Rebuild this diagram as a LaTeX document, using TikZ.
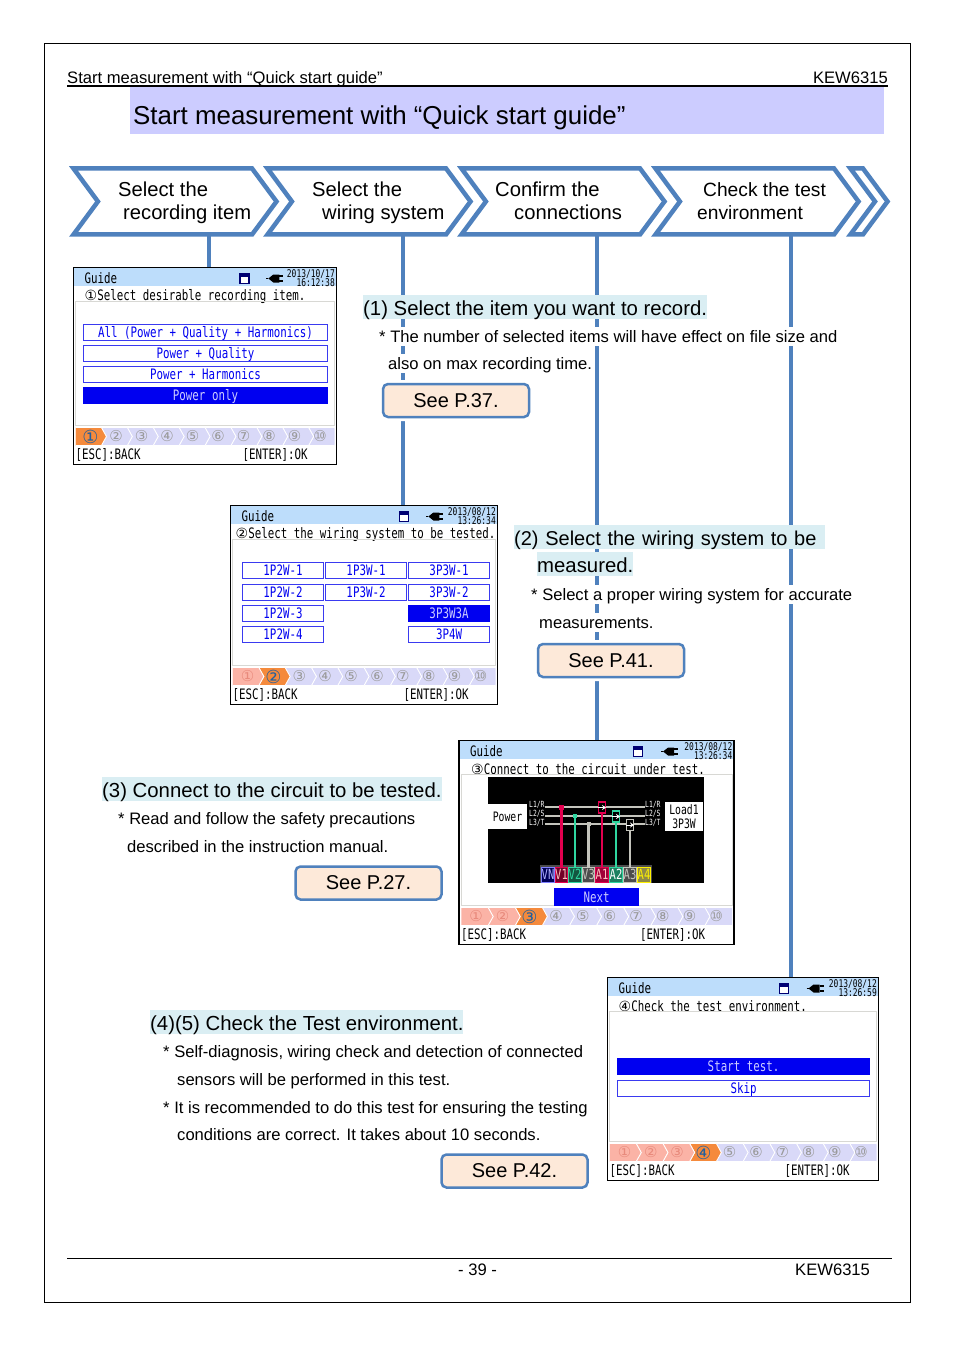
\documentclass[tikz,border=0pt]{standalone}
\usepackage{fontspec}
\setmainfont{Liberation Sans}
\newfontfamily\lcdfont[FakeStretch=0.75]{DejaVu Sans Mono}
\newfontfamily\dingfont{DejaVu Sans}
\usetikzlibrary{shapes.symbols, arrows.meta, backgrounds}
\definecolor{KewBlue}{HTML}{4F81BD}
\definecolor{KewBand}{HTML}{DAEEF3}
\definecolor{KewPeach}{HTML}{FDE9D9}
\definecolor{KewTitle}{HTML}{CCCCFF}
\definecolor{HeadBlue}{HTML}{BDDDFB}
\definecolor{PanelGrey}{HTML}{D8D8D4}
\definecolor{BtnBlue}{HTML}{0000F0}
\definecolor{BtnEdge}{HTML}{3A3AF0}
\definecolor{StepNow}{HTML}{F58A3C}
\definecolor{StepDone}{HTML}{FBB3A6}
\definecolor{StepNext}{HTML}{D9D9F8}
\definecolor{DigitNow}{HTML}{1F5F9F}
\definecolor{DigitDone}{HTML}{E88A7C}
\definecolor{DigitNext}{HTML}{9A9A9A}
\definecolor{WireRed}{HTML}{E4004F}
\definecolor{WireTeal}{HTML}{2FD6A0}
\definecolor{WireGrey}{HTML}{C4C4BC}
\tikzset{
    % Flow arrows
    chevron/.style={
        signal,
        signal to=east,
        signal from=west,
        signal pointer angle=107,
        draw=KewBlue,
        fill=white,
        line width=4.5pt,
        outer sep=0pt,
        minimum width=203pt,
        minimum height=66pt
    },
    steptext/.style={
        anchor=base west,
        inner sep=0pt,
        font=\fontsize{20.2}{23}\selectfont
    },
    link/.style={
        line width=4.4pt,
        draw=KewBlue
    },
    % Page text
    plainline/.style={
        anchor=base west,
        inner sep=0pt,
        font=\fontsize{16.6}{19}\selectfont
    },
    bodyline/.style={
        plainline,
        fill=white,
        text height=15pt,
        text depth=4pt
    },
    bandline/.style={
        anchor=base west,
        inner sep=0pt,
        fill=KewBand,
        text height=20pt,
        text depth=3.5pt,
        font=\fontsize{20.35}{23}\selectfont
    },
    seebox/.style={
        rectangle,
        rounded corners=5pt,
        draw=KewBlue,
        fill=KewPeach,
        line width=2.5pt,
        preaction={draw=white, line width=8pt},
        minimum width=146pt,
        minimum height=33pt,
        font=\fontsize{20}{23}\selectfont
    },
    % Instrument screens
    screenframe/.style={
        rectangle,
        anchor=north west,
        draw=black,
        fill=white,
        line width=1.2pt,
        outer sep=0pt
    },
    lcdtext/.style={
        inner sep=0pt,
        font=\lcdfont\fontsize{14.4}{16}\selectfont
    },
    lcdsmall/.style={
        inner sep=0pt,
        anchor=east,
        font=\lcdfont\fontsize{10.6}{11}\selectfont
    },
    option/.style={
        rectangle,
        anchor=north west,
        inner sep=0pt,
        draw=BtnEdge,
        fill=white,
        line width=1pt,
        text=BtnBlue,
        text height=12pt,
        text depth=2pt,
        font=\lcdfont\fontsize{14.4}{16}\selectfont
    },
    picked/.style={
        option,
        draw=BtnBlue,
        fill=BtnBlue,
        text=KewTitle
    },
    % Wiring picture
    bus/.style={
        line width=2.6pt,
        draw=WireGrey
    },
    probe/.style={
        line width=2.6pt
    },
    ctbox/.style={
        rectangle,
        fill=black,
        line width=1.2pt,
        inner sep=0pt,
        minimum width=7pt,
        minimum height=11pt
    },
    terminal/.style={
        rectangle,
        inner sep=0pt,
        line width=1pt,
        minimum width=12pt,
        minimum height=15pt,
        font=\lcdfont\fontsize{14}{14}\selectfont
    },
    wiretag/.style={
        inner sep=0pt,
        anchor=west,
        text=white,
        font=\lcdfont\fontsize{8.5}{9}\selectfont
    },
    whitebox/.style={
        rectangle,
        fill=white,
        inner sep=0pt,
        align=center,
        minimum height=25pt,
        font=\lcdfont\fontsize{13}{14}\selectfont
    }
}
% name, corner, width, height, date, time, prompt x, prompt, step
\newcommand{\guidescreen}[9]{%
    \begin{scope}[shift={(#2)}]
        \node[screenframe, minimum width=#3, minimum height=#4] (#1) at (0,0) {};
        \fill[HeadBlue] (0.7,0.7) rectangle (#3-0.7,18.5);
        \node[lcdtext, anchor=west] (#1head) at (11,11) {Guide};
        \node[lcdsmall] (#1date) at (#3-1.5,7) {#5};
        \node[lcdsmall] (#1time) at (#3-1.5,15.5) {#6};
        \node[lcdtext, anchor=west] (#1prompt) at (#7,29) {{\dingfont\fontsize{14}{14}\selectfont\char\numexpr9311+#9\relax}#8};
        \draw[PanelGrey, line width=1pt] (2,34) rectangle (#3-2,#4-39);
        % SD card and plug icons
        \pgfmathsetmacro{\sdx}{0.65*#3}
        \pgfmathsetmacro{\plugx}{0.775*#3}
        \draw[fill=white, draw=blue!45!black, line width=1.3pt] (\sdx-4.5,6) rectangle (\sdx+4.5,16);
        \fill[blue!45!black] (\sdx-4.5,6) rectangle (\sdx+4.5,9.5);
        \fill[black] (\plugx-9,11) -- (\plugx-4,7) -- (\plugx+2,7) -- (\plugx+2,15) -- (\plugx-4,15) -- cycle;
        \draw[black, line width=1.3pt] (\plugx-11,11) -- (\plugx-9,11) (\plugx+2,8.5) -- (\plugx+6,8.5) (\plugx+2,13.5) -- (\plugx+6,13.5);
        % Progress bar
        \begin{scope}
            \clip (2,#4-37) rectangle (#3-2,#4-19);
            \foreach \i in {10,9,...,1} {
                \pgfmathsetmacro{\barx}{2+(\i-1)*(#3-4)/10}
                \pgfmathsetmacro{\barw}{(#3-4)/10}
                \ifnum\i<#9 \def\barcol{StepDone}\else\ifnum\i=#9 \def\barcol{StepNow}\else\def\barcol{StepNext}\fi\fi
                \ifnum\i=1 \def\barnotch{0}\else\def\barnotch{5}\fi
                \filldraw[fill=\barcol, draw=white, line width=0.8pt] (\barx,#4-37) -- ++(\barw,0) -- ++(5,9) -- ++(-5,9) -- ++(-\barw,0) -- ++(\barnotch,-9) -- cycle;
            }
        \end{scope}
        \foreach \i in {1,...,10} {
            \pgfmathsetmacro{\digx}{17+(\i-1)*(#3-8)/10}
            \ifnum\i<#9 \def\digcol{DigitDone}\def\digsize{15}\else\ifnum\i=#9 \def\digcol{DigitNow}\def\digsize{18}\else\def\digcol{DigitNext}\def\digsize{15}\fi\fi
            \node[inner sep=0pt, text=\digcol, font=\dingfont\fontsize{\digsize}{12}\selectfont] (#1dig\i) at (\digx,#4-28) {\char\numexpr9311+\i\relax};
        }
        \node[lcdtext, anchor=west] (#1esc) at (2,#4-9.5) {[ESC]:BACK};
        \node[lcdtext, anchor=west] (#1ent) at (#3-94,#4-9.5) {[ENTER]:OK};
    \end{scope}
}
\begin{document}
\begin{tikzpicture}[x=1pt, y=-1pt]
    \useasboundingbox (0,0) rectangle (954,1348);
    % Page frame and header
    \draw[black, line width=1pt] (44,44) rectangle (910,1302);
    \node[plainline] (headleft) at (67,83.5) {Start measurement with “Quick start guide”};
    \node[plainline, anchor=base east] (headright) at (888,83.5) {KEW6315};
    \draw[black, line width=1.8pt] (67,85.7) -- (888,85.7);
    \fill[KewTitle] (130,87) rectangle (884,134);
    \node[plainline, font=\fontsize{25.9}{30}\selectfont] (title) at (133,125) {Start measurement with “Quick start guide”};

    % Flow arrows
    \node[chevron] (stepa) at (175,201.5) {};
    \node[chevron] (stepb) at (369,201.5) {};
    \node[chevron] (stepc) at (563,201.5) {};
    \node[chevron] (stepd) at (757,201.5) {};
    \draw[KewBlue, line width=4.5pt] (850.4,168.5) -- (863,168.5) -- (887.5,201.5) -- (863,234.5) -- (850.4,234.5) -- (875,201.5) -- cycle;
    \node[steptext] (stepa one) at (118,197) {Select the};
    \node[steptext] (stepa two) at (123,220) {recording item};
    \node[steptext] (stepb one) at (312,197) {Select the};
    \node[steptext] (stepb two) at (322,220) {wiring system};
    \node[steptext] (stepc one) at (495,197) {Confirm the};
    \node[steptext] (stepc two) at (514,220) {connections};
    \node[steptext, font=\fontsize{19.2}{23}\selectfont] (stepd one) at (703,197) {Check the test};
    \node[steptext, font=\fontsize{19.2}{23}\selectfont] (stepd two) at (697,220) {environment};

    % Step 1 text
    \node[bandline] (banda) at (363,315) {(1) Select the item you want to record.};
    \node[bodyline] (texta one) at (379,342) {* The number of selected items will have effect on file size and};
    \node[bodyline] (texta two) at (388,369) {also on max recording time.};
    \node[seebox] (seea) at (456,400.5) {See P.37.};

    % Step 2 text
    \node[bandline, text width=311pt, font=\fontsize{20}{23}\selectfont] (bandb) at (514,545) {(2) Select the wiring system to be};
    \node[bandline] (bandb two) at (537,572) {measured.};
    \node[bodyline] (textb one) at (531,600) {* Select a proper wiring system for accurate};
    \node[bodyline] (textb two) at (539,628) {measurements.};
    \node[seebox] (seeb) at (611,660.5) {See P.41.};

    % Step 3 text
    \node[bandline] (bandc) at (102,797) {(3) Connect to the circuit to be tested.};
    \node[bodyline] (textc one) at (118,824) {* Read and follow the safety precautions};
    \node[bodyline] (textc two) at (127,852) {described in the instruction manual.};
    \node[seebox] (seec) at (368.5,883) {See P.27.};

    % Step 4 text
    \node[bandline] (bandd) at (150,1030) {(4)(5) Check the Test environment.};
    \node[bodyline] (textd one) at (163,1057) {* Self-diagnosis, wiring check and detection of connected};
    \node[bodyline] (textd two) at (177,1085) {sensors will be performed in this test.};
    \node[bodyline] (textd three) at (163,1113) {* It is recommended to do this test for ensuring the testing};
    \node[bodyline] (textd four) at (177,1140) {conditions are correct. It takes about 10 seconds.};
    \node[seebox] (seed) at (514.5,1171) {See P.42.};

    % Screen 1
    \guidescreen{scra}{73.5,267.5}{263}{197}{2013/10/17}{16:12:38}{11}{Select desirable recording item.}{1}
    \node[option, minimum width=244, minimum height=16] (scra all) at (83,324) {All (Power + Quality + Harmonics)};
    \node[option, minimum width=244, minimum height=16] (scra pq) at (83,345) {Power + Quality};
    \node[option, minimum width=244, minimum height=16] (scra ph) at (83,366) {Power + Harmonics};
    \node[picked, minimum width=244, minimum height=16] (scra only) at (83,387) {Power only};

    % Screen 2
    \guidescreen{scrb}{230.5,505.5}{267}{199}{2013/08/12}{13:26:34}{5}{Select the wiring system to be tested.}{2}
    \foreach \x/\y/\lbl in {242/562/1P2W-1, 325/562/1P3W-1, 408/562/3P3W-1, 242/584/1P2W-2, 325/584/1P3W-2, 408/584/3P3W-2, 242/605/1P2W-3, 242/626/1P2W-4, 408/626/3P4W} {
        \node[option, minimum width=81, minimum height=16] (scrb \lbl) at (\x,\y) {\lbl};
    }
    \node[picked, minimum width=81, minimum height=16] (scrb pick) at (408,605) {3P3W3A};

    % Screen 3
    \guidescreen{scrc}{459,740.5}{275}{204}{2013/08/12}{13:26:34}{12}{Connect to the circuit under test.}{3}
    \fill[black] (488,777) rectangle (704,883);
    \fill[black!70] (540,865) rectangle (652,883);
    \node[whitebox, minimum width=39] (power) at (507.5,816.5) {Power};
    \node[whitebox, minimum width=38, minimum height=29pt] (load) at (684,816.5) {Load1\\3P3W};
    \node[wiretag] (lone) at (529,805) {L1/R};
    \node[wiretag] (ltwo) at (529,814) {L2/S};
    \node[wiretag] (lthree) at (529,823) {L3/T};
    \node[wiretag] (rone) at (645,805) {L1/R};
    \node[wiretag] (rtwo) at (645,814) {L2/S};
    \node[wiretag] (rthree) at (645,823) {L3/T};
    \draw[bus] (lone.east |- 0,807) -- (rone.west |- 0,807);
    \draw[bus] (ltwo.east |- 0,816) -- (rtwo.west |- 0,816);
    \draw[bus] (lthree.east |- 0,824) -- (rthree.west |- 0,824);
    % Terminals
    \foreach \name/\x/\edge/\back/\front/\lbl in {
        tvn/548/blue!50/blue!35!black/blue!30/VN,
        tvo/561.5/WireRed/WireRed!50!black/pink/V1,
        tvt/575/WireTeal/WireTeal!40!black/WireTeal/V2,
        tvh/588.5/WireGrey/black!70/WireGrey/V3,
        tao/602/WireRed/WireRed!70!black/pink/A1,
        tat/616/WireTeal/WireTeal!60!black/white/A2,
        tah/630/WireGrey/black!70/WireGrey/A3,
        taf/644/yellow/yellow!50!black/yellow/A4} {
        \node[terminal, draw=\edge, fill=\back, text=\front] (\name) at (\x,874.5) {\lbl};
    }
    % Probes and clamps
    \draw[probe, WireRed] (tvo.north) -- (tvo.north |- 0,807);
    \draw[probe, WireTeal] (tvt.north) -- (tvt.north |- 0,816);
    \draw[probe, WireGrey] (tvh.north) -- (tvh.north |- 0,824);
    \node[ctbox, draw=WireRed] (cta) at (602,807.5) {};
    \node[ctbox, draw=WireTeal] (ctb) at (616,816.5) {};
    \node[ctbox, draw=WireGrey] (ctc) at (630,825) {};
    \foreach \ct in {cta,ctb,ctc} {
        \draw[-{Stealth[length=4pt,width=5pt]}, white, line width=1pt] (\ct.west) -- (\ct.east);
    }
    \draw[probe, WireRed] (tao.north) -- (cta.south);
    \draw[probe, WireTeal] (tat.north) -- (ctb.south);
    \draw[probe, WireGrey] (tah.north) -- (ctc.south);
    \fill[WireRed] (559,804.5) rectangle (564,809.5);
    \fill[WireTeal] (573,814) rectangle (577,818);
    \fill[WireGrey] (586.5,822) rectangle (590.5,826);
    \node[picked, minimum width=84, minimum height=17] (scrc next) at (554,888) {Next};

    % Screen 4
    \guidescreen{scrd}{607.5,977.5}{271}{203}{2013/08/12}{13:26:59}{11}{Check the test environment.}{4}
    \node[picked, minimum width=252, minimum height=16] (scrd start) at (617,1058) {Start test.};
    \node[option, minimum width=252, minimum height=16] (scrd skip) at (617,1080) {Skip};

    % Footer
    \draw[black, line width=1pt] (67,1258) -- (892,1258);
    \node[plainline] (pageno) at (458,1275) {- 39 -};
    \node[plainline] (footname) at (795,1275) {KEW6315};

    % Connectors behind everything
    \begin{scope}[on background layer]
        \foreach \st/\sc in {stepa/scra, stepb/scrb, stepc/scrc, stepd/scrd} {
            \draw[link] ([xshift=34pt]\st.south) -- ([xshift=34pt]\st.south |- \sc.north);
        }
    \end{scope}
\end{tikzpicture}
\end{document}
